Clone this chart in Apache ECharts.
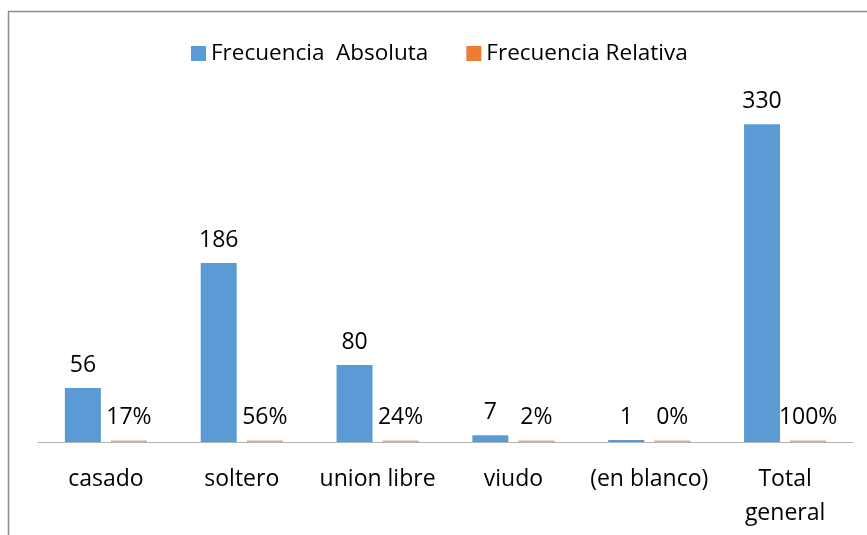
<!DOCTYPE html>
<html>
<head>
<meta charset="utf-8">
<script src="https://cdn.jsdelivr.net/npm/echarts@6/dist/echarts.min.js"></script>
<style>
    html, body { margin: 0; padding: 0; background: #fff; }
    #chart { width: 867px; height: 535px; }
</style>
</head>
<body>
<div id="chart"></div>
<script>
    // datos de la tabla
    const categorias = ['casado', 'soltero', 'union libre', 'viudo', '(en blanco)', 'Total\ngeneral'];
    const absoluta = [56, 186, 80, 7, 1, 330];
    const relativa = [0.17, 0.56, 0.24, 0.02, 0.00, 1.00];

    const fuente = 'Open Sans';

    var option = {
        animation: false,
        textStyle: { fontFamily: fuente },
        graphic: [{
            type: 'rect',
            silent: true,
            shape: { x: 8.5, y: 11.5, width: 1000, height: 1000 },
            style: { fill: 'none', stroke: '#8c8c8c', lineWidth: 1.5 }
        }],
        legend: {
            left: 186,
            top: 37,
            itemWidth: 15,
            itemHeight: 15,
            itemGap: 38,
            icon: 'rect',
            textStyle: { fontFamily: fuente, fontSize: 22.5, color: '#000' },
            data: [
                { name: 'Frecuencia  Absoluta', itemStyle: { color: '#5b9bd5' } },
                { name: 'Frecuencia Relativa', itemStyle: { color: '#ed7d31' } }
            ]
        },
        grid: {
            left: 38,
            right: 14,
            top: 105,
            bottom: 93
        },
        xAxis: {
            type: 'category',
            data: categorias,
            axisLine: { lineStyle: { color: '#b3b3b3', width: 1 } },
            axisTick: { show: false },
            axisLabel: {
                color: '#000',
                fontFamily: fuente,
                fontSize: 23,
                lineHeight: 34,
                margin: 20,
                interval: 0
            }
        },
        yAxis: {
            type: 'value',
            min: 0,
            max: 350,
            show: false,
            splitLine: { show: false }
        },
        series: [{
                name: 'Frecuencia  Absoluta',
                type: 'bar',
                barWidth: 36,
                barGap: '28%',
                barMinHeight: 2,
                itemStyle: { color: '#5b9bd5' },
                label: {
                    show: true,
                    position: 'top',
                    distance: 11,
                    color: '#000',
                    fontFamily: fuente,
                    fontSize: 23
                },
                data: absoluta
            },
            {
                name: 'Frecuencia Relativa',
                type: 'bar',
                barWidth: 36,
                barMinHeight: 1.5,
                itemStyle: { color: 'rgba(237,125,49,0.7)' },
                label: {
                    show: true,
                    position: 'top',
                    distance: 12,
                    color: '#000',
                    fontFamily: fuente,
                    fontSize: 23,
                    formatter: p => Math.round(p.value * 100) + '%'
                },
                data: relativa
            }
        ]
    };

    var myChart = echarts.init(document.getElementById('chart'));
    myChart.setOption(option);
</script>
</body>
</html>
